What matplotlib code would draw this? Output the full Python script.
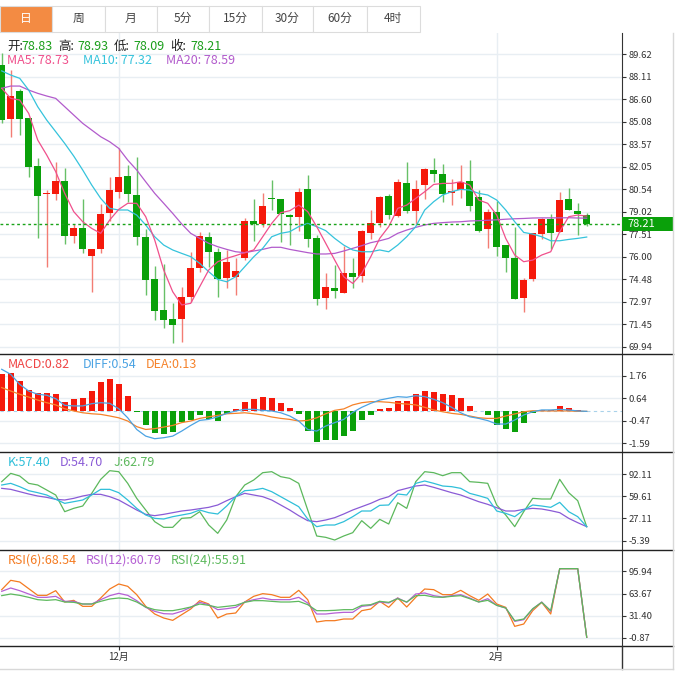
import matplotlib
matplotlib.use('Agg')
import matplotlib.pyplot as plt
import numpy as np
from matplotlib.patches import Rectangle

plt.rcParams['font.family'] = ['Noto Sans CJK SC', 'DejaVu Sans']

# daily candles (66 sessions)
opens = [88.89, 85.26, 87.17, 85.31, 82.10, 80.19, 80.21, 81.11, 77.41, 77.95,
         76.04, 76.49, 78.96, 80.37, 81.43, 80.15, 77.34, 74.47, 72.41, 71.80,
         71.78, 73.26, 75.26, 77.30, 76.33, 74.54, 74.66, 75.93, 78.42, 78.17,
         79.92, 79.88, 78.80, 78.69, 80.55, 77.23, 73.19, 73.87, 73.57, 74.88,
         74.72, 77.61, 78.29, 80.08, 78.76, 80.93, 79.07, 80.84, 81.83, 81.56,
         80.26, 80.48, 81.11, 80.03, 77.86, 79.02, 76.78, 75.88, 73.19, 74.47,
         77.50, 78.51, 77.64, 79.88, 79.07, 78.83]
highs = [89.68, 88.56, 87.25, 85.31, 82.61, 80.48, 82.39, 81.94, 78.17, 79.88,
         76.51, 79.54, 81.33, 83.29, 82.17, 82.68, 77.84, 75.37, 75.50, 72.86,
         73.98, 76.33, 77.68, 77.68, 76.56, 76.44, 75.89, 78.58, 79.88, 80.30,
         81.16, 79.88, 78.85, 80.59, 81.49, 77.46, 74.92, 75.44, 76.74, 75.89,
         77.79, 79.14, 80.08, 80.21, 81.22, 82.39, 81.16, 81.96, 82.66, 82.23,
         81.20, 82.17, 82.50, 80.48, 79.18, 79.72, 76.78, 78.02, 74.54, 77.61,
         78.58, 78.85, 80.37, 80.64, 79.63, 78.93]
lows = [85.00, 84.07, 84.18, 81.38, 77.23, 75.32, 79.81, 76.85, 76.90, 76.22,
        73.64, 76.27, 78.42, 79.92, 79.70, 76.78, 73.42, 71.74, 71.18, 70.16,
        70.28, 72.97, 74.99, 75.32, 73.30, 73.87, 73.41, 75.77, 77.07, 78.02,
        79.14, 76.96, 76.78, 77.74, 76.63, 72.75, 72.47, 73.24, 73.57, 73.87,
        74.32, 77.16, 78.02, 78.53, 78.69, 78.96, 78.13, 79.88, 81.04, 79.70,
        79.48, 79.92, 79.05, 77.68, 76.56, 76.04, 74.99, 73.12, 72.30, 74.36,
        77.16, 76.51, 77.64, 79.14, 77.45, 78.09]
closes = [85.19, 86.83, 85.26, 82.05, 80.10, 80.26, 81.11, 77.41, 77.95, 76.51,
          76.51, 78.87, 80.48, 81.38, 80.19, 77.34, 74.43, 72.36, 71.74, 71.40,
          73.26, 75.21, 77.39, 76.33, 74.47, 75.66, 75.04, 78.40, 78.20, 79.41,
          79.86, 78.87, 78.69, 80.33, 77.19, 73.15, 73.93, 73.71, 74.88, 74.65,
          77.72, 78.24, 80.03, 78.80, 81.04, 79.09, 80.55, 81.88, 81.56, 80.21,
          80.44, 81.04, 79.39, 77.74, 79.02, 76.67, 75.93, 73.12, 74.43, 77.57,
          78.51, 77.61, 79.81, 79.14, 78.85, 78.21]

ma5 = [87.33, 86.65, 86.54, 85.64, 83.85, 82.84, 81.72, 80.26, 79.03, 78.35,
       77.90, 77.57, 78.47, 79.18, 79.59, 79.59, 78.69, 77.12, 75.10, 73.64,
       72.75, 72.86, 73.98, 75.10, 75.66, 75.89, 76.07, 76.27, 76.45, 77.34,
       78.24, 78.96, 79.09, 79.47, 79.03, 78.02, 76.90, 75.77, 74.65, 74.20,
       74.87, 75.99, 77.23, 78.02, 79.25, 79.47, 79.92, 80.37, 80.86, 80.93,
       80.93, 81.04, 80.82, 79.81, 79.59, 78.80, 77.23, 76.11, 75.66, 75.77,
       76.11, 76.33, 77.68, 78.69, 78.80, 78.73]
ma10 = [88.50, 88.22, 88.00, 87.21, 86.09, 85.19, 84.41, 83.62, 82.77, 81.83,
        80.82, 79.92, 79.25, 79.14, 79.14, 78.80, 78.13, 77.34, 76.78, 76.45,
        76.22, 76.00, 75.55, 74.99, 74.47, 74.31, 74.65, 75.32, 75.99, 76.56,
        77.34, 77.57, 77.68, 78.02, 78.24, 78.02, 77.75, 77.23, 76.78, 76.45,
        76.33, 76.33, 76.45, 76.33, 76.78, 77.34, 78.02, 79.14, 79.70, 80.15,
        80.37, 80.53, 80.48, 80.26, 80.15, 79.81, 79.14, 78.35, 77.63, 77.52,
        77.34, 77.07, 77.07, 77.16, 77.23, 77.32]
ma20 = [87.33, 87.48, 87.48, 87.21, 86.99, 86.81, 86.65, 86.09, 85.53, 84.97,
        84.52, 84.07, 83.73, 83.29, 82.50, 81.83, 81.04, 80.26, 79.59, 78.91,
        78.20, 77.57, 77.23, 76.90, 76.67, 76.49, 76.33, 76.27, 76.38, 76.49,
        76.63, 76.63, 76.49, 76.38, 76.27, 76.18, 76.18, 76.22, 76.38, 76.56,
        76.74, 76.94, 77.07, 77.23, 77.57, 77.79, 77.97, 78.13, 78.24, 78.29,
        78.33, 78.35, 78.40, 78.42, 78.45, 78.48, 78.52, 78.55, 78.57, 78.60,
        78.61, 78.61, 78.61, 78.62, 78.60, 78.59]

macd_hist = [1.84, 1.89, 1.51, 1.04, 0.90, 0.90, 0.85, 0.46, 0.60, 0.66,
             1.00, 1.46, 1.59, 1.38, 0.75, -0.03, -0.70, -1.09, -1.14, -1.01,
             -0.53, -0.44, -0.19, -0.40, -0.48, -0.15, 0.10, 0.48, 0.60, 0.71,
             0.65, 0.40, 0.15, -0.15, -0.98, -1.53, -1.44, -1.43, -1.21, -0.96,
             -0.43, -0.18, 0.12, 0.18, 0.51, 0.51, 0.88, 1.03, 0.96, 0.86,
             0.83, 0.68, 0.28, 0.00, -0.18, -0.66, -0.88, -1.01, -0.56, -0.10,
             0.07, 0.07, 0.27, 0.15, 0.07, 0.01]
diff = [2.09, 1.84, 1.34, 1.01, 0.85, 0.80, 0.63, 0.30, 0.27, 0.27,
        0.38, 0.43, 0.40, 0.13, -0.32, -0.90, -1.23, -1.36, -1.31, -1.23,
        -0.98, -0.70, -0.45, -0.40, -0.27, -0.10, 0.02, 0.10, 0.10, 0.05,
        0.02, -0.07, -0.23, -0.48, -0.90, -0.98, -0.73, -0.56, -0.40, -0.05,
        0.20, 0.40, 0.56, 0.65, 0.73, 0.70, 0.78, 0.73, 0.60, 0.43,
        0.20, -0.07, -0.27, -0.35, -0.46, -0.63, -0.63, -0.43, -0.18, -0.02,
        0.07, 0.07, 0.10, 0.07, 0.02, 0.00]
dea = [1.18, 1.01, 0.85, 0.71, 0.56, 0.43, 0.32, 0.13, 0.02, -0.07,
       -0.12, -0.15, -0.23, -0.32, -0.48, -0.76, -0.90, -0.86, -0.78, -0.70,
       -0.56, -0.48, -0.35, -0.27, -0.20, -0.12, -0.10, -0.07, -0.12, -0.18,
       -0.28, -0.35, -0.40, -0.48, -0.45, -0.32, -0.12, 0.05, 0.12, 0.32,
       0.43, 0.48, 0.48, 0.45, 0.40, 0.36, 0.32, 0.20, 0.07, -0.02,
       -0.10, -0.15, -0.23, -0.32, -0.35, -0.35, -0.23, -0.13, -0.02, 0.03,
       0.02, 0.02, 0.02, 0.02, 0.00, 0.00]

k_line = [76.03, 78.47, 73.59, 67.74, 64.82, 61.41, 55.07, 49.22, 51.66, 54.10,
          61.41, 69.69, 69.69, 64.82, 54.10, 41.92, 32.17, 27.29, 26.32, 29.73,
          32.17, 34.61, 39.48, 35.58, 33.63, 45.33, 58.97, 67.74, 68.72, 71.15,
          66.28, 58.97, 51.66, 44.35, 26.32, 15.11, 17.55, 17.55, 22.42, 29.73,
          38.02, 38.02, 46.30, 46.79, 62.87, 61.41, 78.47, 81.88, 78.47, 74.57,
          73.59, 71.15, 63.84, 60.43, 56.53, 38.02, 34.61, 29.73, 39.48, 46.79,
          45.33, 43.38, 50.69, 37.04, 29.73, 15.11]
d_line = [71.15, 69.69, 66.28, 62.87, 59.95, 58.00, 55.07, 54.10, 56.53, 59.95,
          62.38, 62.38, 58.97, 54.10, 46.79, 39.48, 33.14, 31.20, 33.14, 35.58,
          38.02, 39.48, 41.43, 43.38, 46.79, 53.12, 58.97, 63.84, 61.41, 58.97,
          54.10, 46.79, 39.48, 31.20, 23.88, 22.42, 24.86, 28.27, 33.63, 39.48,
          44.35, 49.22, 55.07, 58.97, 67.74, 71.15, 74.57, 76.03, 72.62, 68.72,
          64.82, 61.41, 56.53, 51.66, 47.76, 42.89, 38.02, 38.02, 40.46, 41.92,
          40.94, 38.51, 35.58, 27.29, 20.96, 15.11]
j_line = [80.90, 93.08, 89.19, 78.47, 76.03, 68.72, 61.41, 37.04, 41.92, 45.33,
          63.84, 84.31, 96.98, 95.52, 78.47, 56.53, 39.48, 22.42, 14.14, 14.14,
          27.29, 28.27, 37.04, 17.55, 5.37, 24.86, 58.97, 76.03, 83.34, 94.06,
          95.52, 88.21, 85.77, 78.47, 39.48, 1.47, -0.48, -4.38, 1.47, 6.34,
          23.88, 12.67, 25.83, 19.01, 50.20, 41.92, 80.90, 95.52, 94.06, 89.67,
          94.06, 94.06, 80.90, 79.93, 78.47, 46.79, 32.17, 15.11, 37.04, 56.53,
          55.56, 55.56, 84.31, 64.82, 53.12, 15.11]

rsi6 = [69.31, 82.87, 80.44, 70.76, 61.07, 61.07, 67.85, 51.39, 53.81, 45.09,
        45.09, 57.20, 70.27, 77.54, 74.15, 62.04, 45.09, 33.95, 28.14, 24.75,
        32.99, 41.22, 53.33, 48.48, 28.14, 33.95, 35.41, 51.39, 59.62, 63.50,
        62.04, 58.17, 58.17, 68.34, 54.78, 22.33, 24.27, 24.27, 26.69, 26.69,
        38.80, 41.22, 52.36, 43.64, 57.20, 44.12, 58.17, 70.27, 69.31, 62.04,
        62.04, 68.34, 60.59, 53.81, 63.01, 48.48, 43.64, 16.04, 19.43, 38.80,
        50.90, 33.95, 99.81, 99.81, 99.81, 0.06]
rsi12 = [66.88, 71.73, 67.85, 63.01, 58.17, 58.17, 59.62, 52.36, 52.36, 48.48,
         48.48, 54.78, 60.59, 63.98, 61.07, 53.33, 43.64, 37.83, 34.44, 33.95,
         37.83, 43.64, 50.90, 47.51, 40.25, 41.70, 43.64, 51.39, 54.78, 57.20,
         54.78, 54.78, 54.78, 58.17, 49.94, 33.95, 33.95, 35.41, 36.38, 36.38,
         45.09, 46.55, 51.39, 49.94, 57.20, 50.90, 63.01, 64.46, 60.59, 58.65,
         60.59, 62.04, 57.20, 51.39, 56.23, 46.55, 42.67, 23.30, 25.72, 41.22,
         51.39, 37.83, 99.81, 99.81, 99.81, 0.06]
rsi24 = [60.59, 63.01, 61.07, 58.17, 54.78, 53.81, 54.78, 51.39, 50.90, 48.48,
         48.48, 52.36, 55.75, 57.20, 56.23, 51.39, 44.12, 40.25, 38.80, 38.80,
         41.22, 44.12, 48.48, 46.55, 43.64, 45.09, 46.55, 50.90, 53.33, 53.33,
         52.36, 51.39, 51.39, 52.36, 47.51, 38.80, 38.80, 39.28, 40.25, 40.25,
         46.55, 47.51, 52.36, 50.90, 56.23, 51.39, 60.59, 61.07, 58.65, 58.17,
         59.62, 60.59, 56.23, 51.39, 53.81, 46.55, 42.67, 24.27, 26.69, 41.70,
         50.90, 38.80, 99.81, 99.81, 99.81, 0.06]

price_ticks = [89.62, 88.11, 86.60, 85.08, 83.57, 82.05, 80.54, 79.02, 77.51,
               76.00, 74.48, 72.97, 71.45, 69.94]
macd_ticks = [1.76, 0.64, -0.47, -1.59]
kdj_ticks = [92.11, 59.61, 27.11, -5.39]
rsi_ticks = [95.94, 63.67, 31.40, -0.87]
month_pos = [13, 55]
month_labels = ['12月', '2月']
tabs = ['日', '周', '月', '5分', '15分', '30分', '60分', '4时']
last_price = 78.21

RED = '#f5190b'
GREEN = '#0aa00a'
GRID = '#e8eef3'

W, H = 680, 675
fig = plt.figure(figsize=(6.8, 6.75), dpi=100)


def box(top, bottom):
    return [0, 1 - bottom / H, 622 / W, (bottom - top) / H]


def style(a, ticks, lim):
    a.set_xlim(-0.19, 68.92)
    a.set_ylim(*lim)
    a.set_yticks(ticks)
    a.set_yticklabels(['%.2f' % t for t in ticks])
    a.yaxis.tick_right()
    a.tick_params(axis='y', length=3, width=0.8, pad=1.5, labelsize=6.8,
                  colors='#333333')
    a.tick_params(axis='x', length=0, labelbottom=False)
    for s in ['left', 'top', 'bottom']:
        a.spines[s].set_visible(False)
    a.spines['right'].set_color('#333333')
    for t in ticks:
        a.axhline(t, color=GRID, lw=1, zorder=0)
    for xv in month_pos:
        a.axvline(xv, color=GRID, lw=1, zorder=0)


ax = fig.add_axes(box(33, 354))
ax_macd = fig.add_axes(box(354, 452))
ax_kdj = fig.add_axes(box(452, 550))
ax_rsi = fig.add_axes(box(550, 646))

style(ax, price_ticks, (69.45, 91.05))
style(ax_macd, macd_ticks, (-2.02, 2.85))
style(ax_kdj, kdj_ticks, (-19.0, 124.3))
style(ax_rsi, rsi_ticks, (-12.5, 126.9))

# candles
x = np.arange(len(closes))
o = np.array(opens)
c = np.array(closes)
up = c >= o
ax.vlines(x, lows, highs, colors=np.where(up, '#f37d74', '#67c067'), lw=1, zorder=2)
ax.bar(x, np.maximum(np.abs(c - o), 0.07), bottom=np.minimum(o, c), width=0.76,
       color=np.where(up, RED, GREEN), zorder=3)
ax.plot(x, ma20, color='#b25bcc', lw=0.9, zorder=4)
ax.plot(x, ma10, color='#35c3dc', lw=0.9, zorder=4)
ax.plot(x, ma5, color='#f0508c', lw=0.9, zorder=4)
ax.axhline(last_price, color='#19a319', lw=1, ls=(0, (2, 2)), zorder=5)

# MACD
hist = np.array(macd_hist)
ax_macd.axhline(0, color='#a9d2ea', lw=0.8, ls=(0, (3, 3)), zorder=1)
ax_macd.bar(x, hist, width=0.68, color=np.where(hist >= 0, RED, GREEN), zorder=2)
ax_macd.plot(x, dea, color='#f5822a', lw=0.9, zorder=3)
ax_macd.plot(x, diff, color='#4ba3e3', lw=0.9, zorder=3)

# KDJ
ax_kdj.plot(x, j_line, color='#5cb85c', lw=0.9)
ax_kdj.plot(x, d_line, color='#8a5bd6', lw=0.9)
ax_kdj.plot(x, k_line, color='#2fbfd9', lw=0.9)

# RSI
ax_rsi.plot(x, rsi6, color='#f47a20', lw=0.9)
ax_rsi.plot(x, rsi12, color='#b560d4', lw=0.9)
ax_rsi.plot(x, rsi24, color='#5db95d', lw=0.9)
ax_rsi.set_xticks(month_pos)
ax_rsi.set_xticklabels(month_labels)
ax_rsi.tick_params(axis='x', length=3, width=0.8, labelbottom=True, labelsize=7,
                   pad=1, colors='#333333')

# overlay in pixel coordinates
ov = fig.add_axes([0, 0, 1, 1], zorder=10)
ov.set_xlim(0, W)
ov.set_ylim(H, 0)
ov.axis('off')
ov.patch.set_alpha(0)

edges = [0, 51.7, 105, 156.7, 209, 261.7, 313.3, 366.7, 420]
for i, name in enumerate(tabs):
    x0, x1 = edges[i], edges[i + 1]
    fc = '#f38b43' if i == 0 else 'white'
    ov.add_patch(Rectangle((x0, 5.7), x1 - x0, 26, facecolor=fc,
                           edgecolor='#dcdcdc', lw=0.8))
    ov.text((x0 + x1) / 2, 18.5, name, ha='center', va='center', fontsize=8.5,
            color='white' if i == 0 else '#444444')

for yy in (354, 452, 550, 646):
    ov.plot([0, 673], [yy, yy], color='#222222', lw=1)
ov.plot([622, 622], [646, 669], color='#333333', lw=1)
ov.plot([673, 673], [33, 669], color='#d8d8d8', lw=1)
ov.plot([0, 673], [669, 669], color='#d8d8d8', lw=1)

ov.add_patch(Rectangle((622, 216.7), 51, 14, facecolor=GREEN, edgecolor='none'))
ov.text(627, 224, '%.2f' % last_price, color='white', fontsize=8, va='center')

VAL = '#1a9e1a'
row1 = [(7.3, '开:', '#222222'), (21.7, '78.83', VAL), (58.3, '高:', '#222222'),
        (77.3, '78.93', VAL), (113.3, '低:', '#222222'), (133.3, '78.09', VAL),
        (170, '收:', '#222222'), (190, '78.21', VAL)]
for xx, s, col in row1:
    ov.text(xx, 46.5, s, color=col, fontsize=9, va='center')

labels = [
    (61, [(7.3, 'MA5: 78.73', '#f0508c'), (82.7, 'MA10: 77.32', '#35c3dc'),
          (165.7, 'MA20: 78.59', '#b25bcc')]),
    (364, [(7.3, 'MACD:0.82', '#ef4444'), (82.7, 'DIFF:0.54', '#4ba3e3'),
           (145.7, 'DEA:0.13', '#f5822a')]),
    (462.7, [(7.3, 'K:57.40', '#2fbfd9'), (60, 'D:54.70', '#8a5bd6'),
             (113.3, 'J:62.79', '#5cb85c')]),
    (559.7, [(7.3, 'RSI(6):68.54', '#f47a20'), (86, 'RSI(12):60.79', '#b560d4'),
             (170.7, 'RSI(24):55.91', '#5db95d')]),
]
for yy, items in labels:
    for xx, s, col in items:
        ov.text(xx, yy, s, color=col, fontsize=9, va='center')

fig.savefig('out.png', dpi=100)
